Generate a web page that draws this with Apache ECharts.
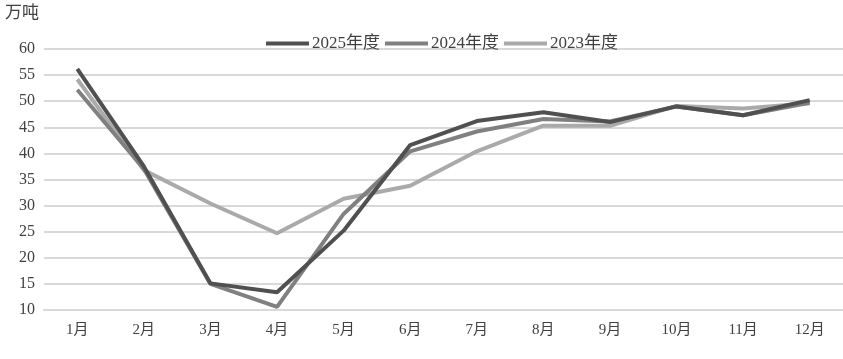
<!DOCTYPE html>
<html><head><meta charset="utf-8">
<script src="https://cdn.jsdelivr.net/npm/echarts@6/dist/echarts.min.js"></script>
<style>html,body{margin:0;padding:0;background:#fff}#c{width:843px;height:359px}</style>
</head><body><div id="c"></div>
<script>
const categories = ['1月','2月','3月','4月','5月','6月','7月','8月','9月','10月','11月','12月'];
const s2025 = [56.2, 37.5, 15.1, 13.4, 25.2, 41.6, 46.2, 47.9, 46.0, 49.0, 47.3, 50.2];
const s2024 = [52.2, 37.0, 15.0, 10.6, 28.4, 40.4, 44.2, 46.6, 46.1, 49.0, 47.3, 49.7];
const s2023 = [54.2, 36.8, 30.4, 24.7, 31.3, 33.8, 40.4, 45.3, 45.3, 49.1, 48.6, 49.6];
const seriesNames = ['2025年度','2024年度','2023年度'];
const colors = ['#505050','#808080','#aaaaaa'];
const font = '"Liberation Serif","Noto Sans CJK SC",serif';
const chart = echarts.init(document.getElementById('c'));
const data = [s2025, s2024, s2023];
chart.setOption({
  animation:false,
  graphic:[{type:'text',left:5,top:5,style:{text:'万吨',font:'17px '+font,fill:'#404040'}}],
  legend:{top:30,left:261,itemWidth:43,itemHeight:4,itemGap:5,icon:'rect',
    textStyle:{fontFamily:font,fontSize:17,color:'#404040',padding:[0,0,0,-2]},
    data:seriesNames},
  grid:{left:44,right:-3,top:49,bottom:49},
  xAxis:{type:'category',data:categories,boundaryGap:true,
    axisLine:{show:true,lineStyle:{color:'#d9d9d9',width:2}},axisTick:{show:false},
    axisLabel:{fontFamily:font,fontSize:15,color:'#404040',margin:13}},
  yAxis:{type:'value',min:10,max:60,interval:5,
    axisLine:{show:false},axisTick:{show:false},
    axisLabel:{fontFamily:font,fontSize:16,color:'#404040',margin:9},
    splitLine:{lineStyle:{color:'#d9d9d9',width:2}}},
  series:data.map((d,i)=>({name:seriesNames[i],type:'line',data:d,symbol:'none',
    z:10-i,lineStyle:{width:4,color:colors[i]},itemStyle:{color:colors[i]}}))
});
</script></body></html>
